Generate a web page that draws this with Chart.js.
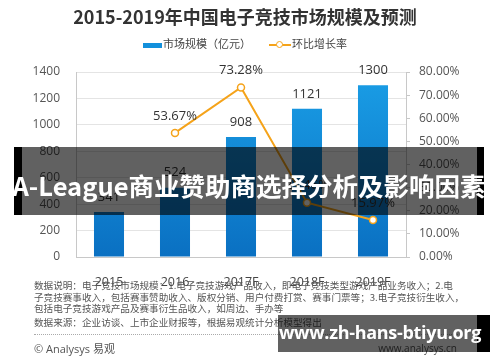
<!DOCTYPE html>
<html><head><meta charset="utf-8">
<script src="https://cdn.jsdelivr.net/npm/chart.js@4.4.1/dist/chart.umd.min.js"></script>
<style>
html,body{margin:0;padding:0;background:#fff;}
#wrap{position:relative;width:500px;height:362px;overflow:hidden;font-family:"Open Sans","Noto Sans CJK SC",sans-serif;}
#c{position:absolute;left:0;top:0;}
.t{position:absolute;white-space:nowrap;}
#title{left:0;width:490px;top:3px;text-align:center;font:bold 18px "Noto Sans CJK SC",sans-serif;color:#333;}
#legend{left:143px;top:35px;font:11px "Noto Sans CJK SC",sans-serif;color:#444;}
.sw{display:inline-block;vertical-align:middle;}
#notes{left:34px;top:280px;font:9.6px/11.7px "Noto Sans CJK SC",sans-serif;color:#555;}
#dots{position:absolute;left:34px;top:334px;width:424px;border-top:1px dotted #aaa;}
#copy{left:34px;top:340px;font:11px "Open Sans","Noto Sans CJK SC",sans-serif;color:#555;}
#site{right:43px;top:341px;font:10px "Open Sans",sans-serif;color:#555;}
#band{position:absolute;left:14px;top:147px;width:470px;height:68px;background:rgba(0,0,0,0.62);}
#band .l{position:absolute;left:0;top:0;width:8px;height:100%;background:#000;}
#band .r{position:absolute;right:0;top:0;width:7px;height:100%;background:#000;}
#bandtxt{left:0;width:498px;top:166px;text-align:center;font:bold 25.5px "Noto Sans CJK SC",sans-serif;color:#fff;}
#box{position:absolute;left:278px;top:315px;width:212px;height:37px;background:rgba(0,0,0,0.62);}
#box .r{position:absolute;right:0;top:0;width:13px;height:100%;background:#000;}
#boxtxt{left:279px;top:320px;font:bold 18px "Open Sans",sans-serif;color:#fff;letter-spacing:-0.3px;}
</style></head>
<body>
<div id="wrap">
<canvas id="c" width="500" height="362"></canvas>
<div class="t" id="title">2015-2019年中国电子竞技市场规模及预测</div>
<div class="t" id="legend"><span class="sw" style="width:19px;height:5px;background:#1290dc;margin-right:1px;"></span>市场规模（亿元）<span class="sw" style="position:relative;width:22px;height:10px;margin-left:18px;margin-right:1px;"><span style="position:absolute;left:0;top:4px;width:22px;height:2px;background:#F5A31A;"></span><span style="position:absolute;left:7px;top:1px;width:5px;height:5px;border:1.5px solid #F5A31A;border-radius:50%;background:#fff;"></span></span>环比增长率</div>
<div class="t" id="notes">数据说明：电子竞技市场规模：1.电子竞技游戏产品收入，即电子竞技类型游戏产品业务收入；2.电<br>子竞技赛事收入，包括赛事赞助收入、版权分销、用户付费打赏、赛事门票等；3.电子竞技衍生收入，<br>包括电子竞技游戏产品及赛事衍生品收入，如周边、手办等<br><span style="display:inline-block;margin-top:2px;">数据来源：企业访谈、上市企业财报等，根据易观统计分析模型得出</span></div>
<div id="dots"></div>
<div class="t" id="copy">© Analysys 易观</div>
<div class="t" id="site">www.analysys.cn</div>
<div id="band"><div class="l"></div><div class="r"></div></div>
<div class="t" id="bandtxt">A-League商业赞助商选择分析及影响因素</div>
<div id="box"><div class="r"></div></div>
<div class="t" id="boxtxt">www.zh-hans-btiyu.org</div>
</div>
<script>
const categories = ["2015", "2016", "2017F", "2018F", "2019F"];
const marketSize = [341, 524, 908, 1121, 1300];
const growthRate = [null, 0.5367, 0.7328, 0.2346, 0.1597];
const growthLabels = [null, "53.67%", "73.28%", "23.46%", "15.97%"];
const leftTicks = [0, 200, 400, 600, 800, 1000, 1200, 1400];
const rightTicks = ["0.00%", "10.00%", "20.00%", "30.00%", "40.00%", "50.00%", "60.00%", "70.00%", "80.00%"];

const labelPlugin = {
  id: 'vlabels',
  afterDatasetsDraw(chart) {
    const c = chart.ctx;
    c.save();
    c.font = '13px "Open Sans", sans-serif';
    c.fillStyle = '#333';
    c.textAlign = 'center';
    c.textBaseline = 'middle';
    chart.getDatasetMeta(1).data.forEach((el, i) => {
      c.fillText(String(marketSize[i]), el.x, el.y - 15);
    });
    chart.getDatasetMeta(0).data.forEach((el, i) => {
      if (growthLabels[i]) c.fillText(growthLabels[i], el.x, el.y - 17);
    });
    c.restore();
  }
};

new Chart(document.getElementById('c'), {
  data: {
    labels: categories,
    datasets: [
      {
        type: 'line', label: '环比增长率', data: growthRate, yAxisID: 'y1', order: 0,
        borderColor: '#F5A31A', borderWidth: 2, tension: 0,
        pointRadius: 3.5, pointBackgroundColor: '#fff', pointBorderColor: '#F5A31A', pointBorderWidth: 1.5
      },
      {
        type: 'bar', label: '市场规模（亿元）', data: marketSize, yAxisID: 'y', order: 1,
        categoryPercentage: 1, barPercentage: 0.455,
        backgroundColor: (ctx) => {
          const ca = ctx.chart.chartArea;
          if (!ca) return '#1296DB';
          const g = ctx.chart.ctx.createLinearGradient(0, ca.top, 0, ca.bottom);
          g.addColorStop(0, '#1a9ee6');
          g.addColorStop(1, '#0a70c2');
          return g;
        }
      }
    ]
  },
  options: {
    responsive: false, animation: false,
    layout: { padding: { top: 72, left: 0, right: 0, bottom: 0 } },
    plugins: { legend: { display: false }, tooltip: { enabled: false }, title: { display: false } },
    scales: {
      x: {
        grid: { display: false },
        border: { color: '#c8c8c8' },
        ticks: { color: '#444', font: { size: 12.5, family: '"Open Sans", sans-serif' }, padding: 10 },
        afterFit: (a) => { a.height = 105; }
      },
      y: {
        position: 'left', min: 0, max: 1400,
        afterBuildTicks: (a) => { a.ticks = leftTicks.map(v => ({ value: v })); },
        grid: { color: '#e4e4e4', drawTicks: false },
        border: { color: '#c8c8c8' },
        ticks: { color: '#555', font: { size: 12, family: '"Open Sans", sans-serif' }, padding: 16,
          callback: (v) => String(v) },
        afterFit: (a) => { a.width = 76; }
      },
      y1: {
        position: 'right', min: 0, max: 0.8,
        afterBuildTicks: (a) => { a.ticks = rightTicks.map((t, i) => ({ value: i / 10 })); },
        grid: { drawOnChartArea: false, color: '#c8c8c8', tickLength: 4 },
        border: { color: '#c8c8c8' },
        ticks: { color: '#555', font: { size: 12, family: '"Open Sans", sans-serif' }, padding: 9,
          callback: (v, i) => rightTicks[i] },
        afterFit: (a) => { a.width = 94; }
      }
    }
  },
  plugins: [labelPlugin]
});
</script>
</body></html>
